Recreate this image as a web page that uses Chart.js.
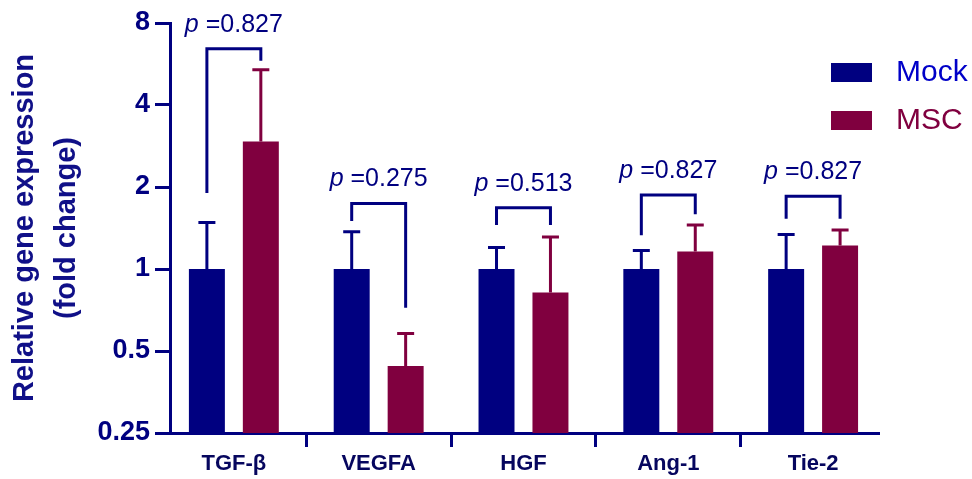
<!DOCTYPE html>
<html>
<head>
<meta charset="utf-8">
<script src="https://cdn.jsdelivr.net/npm/chart.js@4/dist/chart.umd.min.js"></script>
<style>
  body { margin: 0; background: #fff; }
  #wrap { width: 972px; height: 479px; }
</style>
</head>
<body>
<div id="wrap"><canvas id="chart" width="972" height="479"></canvas></div>
<script>
const categories = ['TGF-β', 'VEGFA', 'HGF', 'Ang-1', 'Tie-2'];
const mockMean = [1, 1, 1, 1, 1];
const mockUpper = [1.48, 1.37, 1.20, 1.17, 1.34];
const mscMean = [2.94, 0.44, 0.82, 1.16, 1.22];
const mscUpper = [5.39, 0.58, 1.31, 1.45, 1.39];
const pValues = ['0.827', '0.275', '0.513', '0.827', '0.827'];
const bracketTop = [6.44, 1.74, 1.68, 1.87, 1.85];
const bracketLeftEnd = [1.90, 1.50, 1.45, 1.33, 1.53];
const bracketRightEnd = [5.82, 0.72, 1.45, 1.59, 1.53];
const yTicks = [0.25, 0.5, 1, 2, 4, 8];

const navy = '#000080';
const wine = '#80003f';
const font = '"Liberation Sans", Arial, sans-serif';

const extras = {
    id: 'extras',
    afterDatasetsDraw(chart) {
        const ctx = chart.ctx;
        const y = chart.scales.y;
        const m0 = chart.getDatasetMeta(0).data;
        const m1 = chart.getDatasetMeta(1).data;

        ctx.save();
        ctx.lineWidth = 3;
        ctx.lineCap = 'butt';

        // error bars (upper only)
        const drawErr = (bar, val, top, color) => {
            const yb = y.getPixelForValue(val);
            const yt = y.getPixelForValue(top);
            ctx.strokeStyle = color;
            ctx.beginPath();
            ctx.moveTo(bar.x, yb);
            ctx.lineTo(bar.x, yt);
            ctx.moveTo(bar.x - 8.5, yt);
            ctx.lineTo(bar.x + 8.5, yt);
            ctx.stroke();
        };
        categories.forEach((c, i) => {
            drawErr(m0[i], mockMean[i], mockUpper[i], navy);
            drawErr(m1[i], mscMean[i], mscUpper[i], wine);
        });

        // brackets + p labels
        categories.forEach((c, i) => {
            const xl = m0[i].x, xr = m1[i].x;
            const yt = y.getPixelForValue(bracketTop[i]);
            ctx.strokeStyle = navy;
            ctx.beginPath();
            ctx.moveTo(xl, y.getPixelForValue(bracketLeftEnd[i]));
            ctx.lineTo(xl, yt);
            ctx.lineTo(xr, yt);
            ctx.lineTo(xr, y.getPixelForValue(bracketRightEnd[i]));
            ctx.stroke();

            const cx = (xl + xr) / 2;
            const ty = yt - 24;
            ctx.fillStyle = navy;
            ctx.textBaseline = 'middle';
            ctx.textAlign = 'left';
            ctx.font = 'italic 25px ' + font;
            const pw = ctx.measureText('p').width;
            ctx.font = '25px ' + font;
            const rest = ' =' + pValues[i];
            const rw = ctx.measureText(rest).width;
            const x0 = cx - (pw + rw) / 2;
            ctx.font = 'italic 25px ' + font;
            ctx.fillText('p', x0, ty);
            ctx.font = '25px ' + font;
            ctx.fillText(rest, x0 + pw, ty);
        });

        // legend
        const items = [
            { label: 'Mock', box: navy, text: '#0000c8' },
            { label: 'MSC', box: wine, text: wine }
        ];
        const lx = chart.chartArea.right - 48;
        items.forEach((it, k) => {
            const top = 63 + k * 48;
            ctx.fillStyle = it.box;
            ctx.fillRect(lx, top, 41, 19);
            ctx.fillStyle = it.text;
            ctx.font = '30px ' + font;
            ctx.textAlign = 'left';
            ctx.textBaseline = 'middle';
            ctx.fillText(it.label, lx + 65, top + 10);
        });
        ctx.restore();
    }
};

new Chart(document.getElementById('chart'), {
    type: 'bar',
    data: {
        datasets: [
            {
                label: 'Mock',
                data: mockMean.map((v, i) => ({ x: i, y: v })),
                backgroundColor: navy,
                borderWidth: 0
            },
            {
                label: 'MSC',
                data: mscMean.map((v, i) => ({ x: i, y: v })),
                backgroundColor: wine,
                borderWidth: 0
            }
        ]
    },
    options: {
        responsive: false,
        animation: false,
        devicePixelRatio: 1,
        categoryPercentage: 0.745,
        barPercentage: 0.667,
        layout: { padding: { left: 0, top: 23, right: 93, bottom: 0 } },
        plugins: {
            legend: { display: false },
            tooltip: { enabled: false }
        },
        scales: {
            x: {
                type: 'linear',
                min: -0.441,
                max: 4.455,
                offset: false,
                afterBuildTicks: (scale) => {
                    scale.ticks = categories.map((c, i) => ({ value: i }));
                },
                afterFit: (scale) => { scale.height = 46; },
                ticks: {
                    callback: (v) => categories[v],
                    color: '#06065e',
                    font: { family: font, size: 22, weight: 'bold' },
                    padding: 4,
                    maxRotation: 0,
                    autoSkip: false
                },
                grid: {
                    drawOnChartArea: false,
                    drawTicks: true,
                    tickLength: 14,
                    tickWidth: 3,
                    tickColor: navy
                },
                border: { display: true, color: navy, width: 3 }
            },
            y: {
                type: 'logarithmic',
                min: 0.25,
                max: 8,
                afterBuildTicks: (scale) => {
                    scale.ticks = yTicks.map(v => ({ value: v }));
                },
                afterFit: (scale) => { scale.width = 170; },
                ticks: {
                    callback: (v) => String(v),
                    color: navy,
                    font: { family: font, size: 27, weight: 'bold' },
                    padding: 5
                },
                grid: {
                    drawOnChartArea: false,
                    drawTicks: true,
                    tickLength: 15,
                    tickWidth: 3,
                    tickColor: navy
                },
                border: { display: true, color: navy, width: 3 },
                title: {
                    display: true,
                    text: ['Relative gene expression', '(fold change)'],
                    color: '#101088',
                    font: { family: font, size: 29, weight: 'bold', lineHeight: 1.45 },
                    padding: { top: 4, bottom: 0 }
                }
            }
        }
    },
    plugins: [extras]
});
</script>
</body>
</html>
